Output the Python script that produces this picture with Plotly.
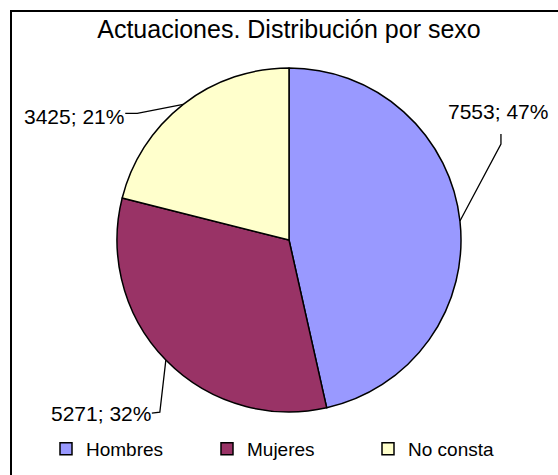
import math
import plotly.graph_objects as go

categories = ["Hombres", "Mujeres", "No consta"]
values = [7553, 5271, 3425]
percent_labels = ["47%", "32%", "21%"]
colors = ["#9999FF", "#993366", "#FFFFCC"]

W, H = 558, 475
CX, CY, R = 289, 240, 172  # pie centre/radius in pixels (layout)
FONT = "Arial, Liberation Sans, sans-serif"

def px(x):
    return x / W

def py(y):
    return 1 - y / H

fig = go.Figure()
fig.add_trace(go.Pie(
    labels=categories, values=values, sort=False, direction="clockwise",
    rotation=0, textinfo="none", hoverinfo="label+value+percent",
    marker=dict(colors=colors, line=dict(color="black", width=1.5)),
    domain=dict(x=[px(CX - R), px(CX + R)], y=[py(CY + R), py(CY - R)]),
))

# leader lines and labels: anchor computed from slice mid-angles
label_offsets = [  # (elbow dx, elbow dy, end dx, end dy, text dx, text dy) px from anchor
    (41, -77, 41, -87, 38, -110),
    (-6, 52, -14, 53, -65, 53),
    (-46, 9, -58, 9, -109, 12),
]
total = sum(values)
cum = 0
shapes = []
annotations = []
for i, v in enumerate(values):
    mid = (cum + v / 2) / total * 2 * math.pi
    cum += v
    ax = CX + R * math.sin(mid)
    ay = CY - R * math.cos(mid)
    ex, ey, fx, fy, tx, ty = label_offsets[i]
    path = "M{},{} L{},{} L{},{}".format(
        px(ax), py(ay), px(ax + ex), py(ay + ey), px(ax + fx), py(ay + fy))
    shapes.append(dict(type="path", xref="paper", yref="paper", path=path,
                       line=dict(color="black", width=1.3)))
    annotations.append(dict(
        xref="paper", yref="paper", x=px(ax + tx), y=py(ay + ty),
        text="{}; {}".format(v, percent_labels[i]), showarrow=False,
        font=dict(family=FONT, size=21, color="black"),
        xanchor="center", yanchor="middle"))

# outer chart border
shapes.append(dict(type="rect", xref="paper", yref="paper",
                   x0=px(11), x1=px(W + 10), y0=py(H + 10), y1=py(11),
                   line=dict(color="black", width=2), layer="below"))

fig.update_layout(
    width=W, height=H,
    margin=dict(l=0, r=0, t=0, b=0),
    paper_bgcolor="white", plot_bgcolor="white",
    title=dict(text="Actuaciones. Distribución por sexo",
               x=px(289), xanchor="center", y=py(29), yanchor="middle",
               font=dict(family=FONT, size=25, color="black")),
    legend=dict(orientation="h", x=px(46), xanchor="left", y=py(449), yanchor="middle",
                font=dict(family=FONT, size=19, color="black"),
                entrywidth=116, entrywidthmode="pixels", traceorder="normal"),
    shapes=shapes, annotations=annotations,
)

fig.write_html("out.html", config={"displayModeBar": False},
               post_script="document.body.style.margin='0';")
